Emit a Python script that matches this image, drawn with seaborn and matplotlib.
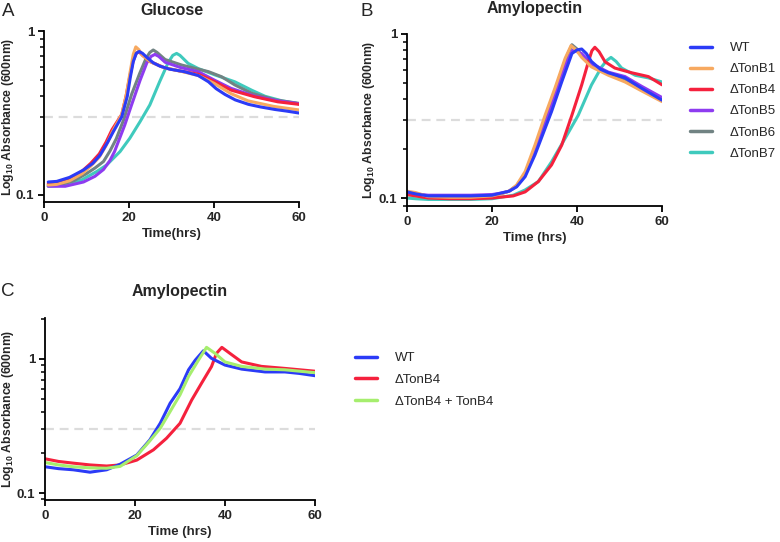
import numpy as np
import pandas as pd
import matplotlib
matplotlib.use("Agg")
import matplotlib.pyplot as plt
import seaborn as sns
from matplotlib.ticker import LogLocator, FixedLocator, NullFormatter

# ---------------- data ----------------
# Panel A: Glucose
a_wt_t = [1, 3, 6, 9.3, 11.5, 13.2, 15, 16.3, 18.3, 19.6, 20.3, 21, 21.7, 22.4, 23.2, 24.2, 25.7, 27.3, 29.6, 33, 36.3, 38.7, 40.5, 42.6, 45, 48.1, 51, 54.4, 57, 60]
a_wt_v = [0.12, 0.121, 0.128, 0.142, 0.156, 0.175, 0.21, 0.243, 0.30, 0.40, 0.52, 0.65, 0.73, 0.75, 0.73, 0.69, 0.64, 0.61, 0.585, 0.565, 0.535, 0.49, 0.445, 0.41, 0.38, 0.357, 0.344, 0.332, 0.325, 0.316]
a_b1_t = [1, 3, 6, 9, 11, 13, 14.6, 16, 18.3, 19.3, 20.2, 21, 21.6, 22.3, 23.2, 25, 28, 32, 36.3, 40, 44, 48, 54, 60]
a_b1_v = [0.115, 0.116, 0.122, 0.135, 0.15, 0.17, 0.2, 0.24, 0.31, 0.40, 0.55, 0.72, 0.80, 0.77, 0.71, 0.65, 0.60, 0.57, 0.535, 0.48, 0.415, 0.375, 0.347, 0.33]
a_b4_t = [1, 3, 6, 9, 11, 13, 14.6, 16, 18.3, 19.3, 20.2, 21, 21.7, 22.3, 23.2, 25, 28.5, 32, 36.3, 40.2, 44, 49.6, 55, 60]
a_b4_v = [0.117, 0.118, 0.125, 0.14, 0.156, 0.178, 0.21, 0.25, 0.31, 0.40, 0.53, 0.66, 0.73, 0.75, 0.71, 0.65, 0.595, 0.57, 0.545, 0.49, 0.436, 0.397, 0.37, 0.357]
a_b5_t = [1, 5, 9.3, 12, 14, 15.5, 16.6, 19, 20.6, 22.6, 24.2, 25.2, 26.1, 27, 28.5, 32, 36.3, 40.2, 44, 49.6, 55, 60]
a_b5_v = [0.113, 0.113, 0.12, 0.13, 0.143, 0.162, 0.184, 0.267, 0.354, 0.50, 0.64, 0.70, 0.72, 0.70, 0.645, 0.60, 0.565, 0.50, 0.447, 0.40, 0.375, 0.36]
a_b6_t = [1, 4, 7, 10, 12, 14, 15.5, 17, 18.8, 20.6, 22.5, 24, 24.9, 25.7, 26.6, 28.5, 32.4, 38.7, 41.8, 44.9, 48.9, 54.4, 60]
a_b6_v = [0.115, 0.116, 0.122, 0.135, 0.146, 0.16, 0.185, 0.22, 0.29, 0.41, 0.55, 0.68, 0.74, 0.766, 0.74, 0.67, 0.62, 0.565, 0.526, 0.469, 0.417, 0.38, 0.362]
a_b7_t = [1, 5, 9, 12.4, 14.7, 17.9, 20.2, 22.6, 24.9, 27.2, 29.2, 30.3, 31.2, 32, 33.9, 36.3, 40.2, 44.9, 48.9, 52, 56, 60]
a_b7_v = [0.113, 0.115, 0.124, 0.139, 0.152, 0.184, 0.222, 0.28, 0.354, 0.49, 0.64, 0.71, 0.73, 0.71, 0.635, 0.59, 0.54, 0.49, 0.435, 0.40, 0.375, 0.36]

# Panel B: Amylopectin
b_wt_t = [0, 2, 5, 10, 15, 20, 22, 24, 25.8, 27.8, 30.1, 32.5, 34, 36.4, 38.8, 40, 41.1, 42.2, 43.4, 45.5, 47.4, 51.3, 55.2, 60]
b_wt_v = [0.109, 0.106, 0.103, 0.103, 0.103, 0.104, 0.107, 0.11, 0.117, 0.135, 0.183, 0.266, 0.336, 0.51, 0.76, 0.80, 0.81, 0.76, 0.68, 0.61, 0.58, 0.54, 0.467, 0.395]
b_b1_t = [0, 2, 5, 10, 15, 20, 22, 24, 25.8, 27.8, 30.1, 32.5, 34.8, 37.2, 38.6, 39.8, 41.1, 43.4, 47.4, 51.3, 55.2, 60]
b_b1_v = [0.11, 0.108, 0.102, 0.101, 0.101, 0.103, 0.106, 0.11, 0.12, 0.145, 0.21, 0.32, 0.467, 0.71, 0.85, 0.80, 0.72, 0.63, 0.56, 0.51, 0.45, 0.387]
b_b4_t = [0, 2, 5, 10, 15, 20, 25, 27.8, 30.9, 34, 36.4, 38.8, 41.1, 42.7, 43.5, 44.2, 45.2, 46.6, 48.9, 52.9, 56.8, 60]
b_b4_v = [0.105, 0.103, 0.1, 0.099, 0.099, 0.1, 0.103, 0.109, 0.126, 0.159, 0.21, 0.32, 0.489, 0.68, 0.79, 0.83, 0.78, 0.677, 0.62, 0.58, 0.55, 0.49]
b_b5_t = [0, 2, 5, 10, 15, 20, 22, 24, 25.8, 27.8, 30.1, 32.5, 34.8, 37.2, 39, 41.1, 43.4, 47.4, 51.3, 55.2, 60]
b_b5_v = [0.108, 0.106, 0.104, 0.104, 0.104, 0.105, 0.107, 0.11, 0.118, 0.138, 0.19, 0.28, 0.42, 0.64, 0.80, 0.76, 0.66, 0.585, 0.55, 0.48, 0.41]
b_b6_t = [0, 2, 5, 10, 15, 20, 22, 24, 25.8, 27.8, 30.1, 32.5, 34.8, 37.2, 38.8, 40, 41.1, 43.4, 47.4, 51.3, 55.2, 60]
b_b6_v = [0.105, 0.104, 0.102, 0.102, 0.102, 0.103, 0.106, 0.11, 0.119, 0.14, 0.2, 0.305, 0.45, 0.69, 0.86, 0.81, 0.74, 0.64, 0.57, 0.53, 0.46, 0.40]
b_b7_t = [0, 2, 5, 10, 15, 20, 25, 27.8, 30.9, 34, 37.2, 40.3, 43.4, 45.8, 47, 48, 49.2, 50.5, 53.7, 56.8, 60]
b_b7_v = [0.1, 0.099, 0.098, 0.098, 0.098, 0.099, 0.104, 0.112, 0.126, 0.166, 0.231, 0.32, 0.489, 0.63, 0.69, 0.72, 0.68, 0.62, 0.56, 0.54, 0.51]

# Panel C: Amylopectin (complementation)
c_wt_t = [0, 3, 6.3, 10, 13.7, 16.7, 20.4, 23.3, 25.6, 27.8, 30, 31.9, 33.4, 35.2, 37, 40, 43.7, 48.9, 53.3, 56.5, 60]
c_wt_v = [0.157, 0.152, 0.149, 0.143, 0.149, 0.164, 0.192, 0.249, 0.331, 0.467, 0.60, 0.83, 0.98, 1.15, 1.01, 0.90, 0.84, 0.80, 0.80, 0.78, 0.75]
c_b4_t = [0, 3, 6.3, 10, 13.7, 16.7, 20.4, 24.1, 27, 30, 32.6, 34.8, 37, 38.1, 39.3, 41.1, 43.7, 48.1, 53.3, 60]
c_b4_v = [0.18, 0.172, 0.167, 0.162, 0.159, 0.162, 0.176, 0.21, 0.256, 0.331, 0.494, 0.66, 0.877, 1.1, 1.22, 1.1, 0.95, 0.88, 0.85, 0.81]
c_comp_t = [0, 3, 6.3, 10, 13.7, 16.7, 20.4, 23.3, 25.6, 27.8, 30, 31.9, 34.1, 35.9, 37.8, 40, 43.7, 48.9, 53.3, 60]
c_comp_v = [0.169, 0.162, 0.157, 0.154, 0.153, 0.158, 0.19, 0.245, 0.304, 0.405, 0.54, 0.74, 0.98, 1.22, 1.1, 0.95, 0.88, 0.84, 0.83, 0.79]

labels_ab = ["WT", "ΔTonB1", "ΔTonB4", "ΔTonB5", "ΔTonB6", "ΔTonB7"]
labels_c = ["WT", "ΔTonB4", "ΔTonB4 + TonB4"]
colors = {"WT": "#2B3BF7", "ΔTonB1": "#F7A960", "ΔTonB4": "#F5213D",
          "ΔTonB5": "#8E3CF0", "ΔTonB6": "#718383", "ΔTonB7": "#3FCABD",
          "ΔTonB4 + TonB4": "#A6EE6E"}
threshold = 0.3
x_ticks = [0, 20, 40, 60]

def frame(series):
    rows = []
    for name, t, v in series:
        for ti, vi in zip(t, v):
            rows.append((name, ti, vi))
    return pd.DataFrame(rows, columns=["strain", "time", "od"])

df_a = frame([("WT", a_wt_t, a_wt_v), ("ΔTonB1", a_b1_t, a_b1_v), ("ΔTonB4", a_b4_t, a_b4_v),
              ("ΔTonB5", a_b5_t, a_b5_v), ("ΔTonB6", a_b6_t, a_b6_v), ("ΔTonB7", a_b7_t, a_b7_v)])
df_b = frame([("WT", b_wt_t, b_wt_v), ("ΔTonB1", b_b1_t, b_b1_v), ("ΔTonB4", b_b4_t, b_b4_v),
              ("ΔTonB5", b_b5_t, b_b5_v), ("ΔTonB6", b_b6_t, b_b6_v), ("ΔTonB7", b_b7_t, b_b7_v)])
df_c = frame([("WT", c_wt_t, c_wt_v), ("ΔTonB4", c_b4_t, c_b4_v), ("ΔTonB4 + TonB4", c_comp_t, c_comp_v)])

# ---------------- style ----------------
sns.set_theme(style="ticks")
plt.rcParams["font.family"] = ["Liberation Sans", "DejaVu Sans"]
plt.rcParams["mathtext.fontset"] = "custom"
plt.rcParams["mathtext.bf"] = "Liberation Sans:bold"
plt.rcParams["mathtext.rm"] = "Liberation Sans:bold"

fig = plt.figure(figsize=(7.8, 5.42), dpi=100)
W, H = 780, 542
def rect(l, t, r, b):
    return [l / W, 1 - b / H, (r - l) / W, (b - t) / H]

ax_a = fig.add_axes(rect(44, 31, 299, 202))
ax_b = fig.add_axes(rect(407, 34, 662, 206))
ax_c = fig.add_axes(rect(45, 318, 315, 500))

draw_ab = ["ΔTonB7", "ΔTonB6", "ΔTonB5", "ΔTonB4", "ΔTonB1", "WT"]
draw_c = ["ΔTonB4", "WT", "ΔTonB4 + TonB4"]

def style_axis(ax, df, order, ylim, xlabel, label_x):
    sns.lineplot(data=df, x="time", y="od", hue="strain", hue_order=order,
                 palette=colors, estimator=None, sort=False, linewidth=2.2, ax=ax,
                 legend=True)
    for ln in ax.get_lines():
        ln.set_solid_joinstyle("round")
        ln.set_solid_capstyle("round")
    ax.axhline(threshold, color="#DCDCDC", lw=1.6, ls=(0, (4, 2.6)), zorder=0)
    ax.set_yscale("log")
    ax.set_xlim(0, 60)
    ax.set_ylim(*ylim)
    ax.xaxis.set_major_locator(FixedLocator(x_ticks))
    ax.yaxis.set_major_locator(LogLocator(base=10, numticks=10))
    ax.yaxis.set_minor_locator(LogLocator(base=10, subs=np.arange(2, 10), numticks=10))
    ax.yaxis.set_minor_formatter(NullFormatter())
    ax.yaxis.set_major_formatter(matplotlib.ticker.FuncFormatter(lambda v, p: f"{v:g}"))
    for s in ["top", "right"]:
        ax.spines[s].set_visible(False)
    for s in ["left", "bottom"]:
        ax.spines[s].set_linewidth(1.3)
        ax.spines[s].set_color("black")
    ax.tick_params(axis="both", which="major", length=4.5, width=1.3, labelsize=9.5, pad=2.5, color="black")
    ax.tick_params(axis="y", which="minor", length=3, width=1.1, color="black")
    for lab in ax.get_xticklabels() + ax.get_yticklabels():
        lab.set_fontweight("bold")
    ax.set_xlabel(xlabel, fontsize=9.5, fontweight="bold", labelpad=3)
    ax.set_ylabel(r"Log$_{\mathbf{10}}$ Absorbance (600nm)", fontsize=8.8, fontweight="bold")
    ax.yaxis.set_label_coords(label_x, 0.5)
    h, l = ax.get_legend_handles_labels()
    ax.get_legend().remove()
    return dict(zip(l, h))

hd_a = style_axis(ax_a, df_a, draw_ab, (0.0906, 1.0), "Time(hrs)", (16 - 44) / 255)
hd_b = style_axis(ax_b, df_b, draw_ab, (0.0894, 1.0), "Time (hrs)", (377 - 407) / 255)
hd_c = style_axis(ax_c, df_c, draw_c, (0.0887, 2.02), "Time (hrs)", (16 - 45) / 270)

# titles and panel letters
fig.text((44 + 299) / 2 / W, 1 - 15 / H, "Glucose", ha="center", va="baseline", fontsize=11.5, fontweight="bold")
fig.text((407 + 662) / 2 / W, 1 - 13 / H, "Amylopectin", ha="center", va="baseline", fontsize=11.5, fontweight="bold")
fig.text((45 + 315) / 2 / W, 1 - 296 / H, "Amylopectin", ha="center", va="baseline", fontsize=11.5, fontweight="bold")
fig.text(1.5 / W, 1 - 16.5 / H, "A", ha="left", va="baseline", fontsize=13.5)
fig.text(361 / W, 1 - 16 / H, "B", ha="left", va="baseline", fontsize=13.5)
fig.text(1.5 / W, 1 - 296.5 / H, "C", ha="left", va="baseline", fontsize=13.5)

# legends
leg1 = fig.legend([hd_b[k] for k in labels_ab], labels_ab, loc="upper left",
                  bbox_to_anchor=(690 / W, 1 - 42 / H), frameon=False, fontsize=9.5,
                  handlelength=1.7, handletextpad=1.3, labelspacing=0.67,
                  borderpad=0, borderaxespad=0)
leg2 = fig.legend([hd_c[k] for k in labels_c], labels_c, loc="upper left",
                  bbox_to_anchor=(355 / W, 1 - 352 / H), frameon=False, fontsize=9.5,
                  handlelength=1.7, handletextpad=1.3, labelspacing=0.72,
                  borderpad=0, borderaxespad=0)
for lg in (leg1, leg2):
    for ln in lg.get_lines():
        ln.set_linewidth(2.5)

fig.savefig("out.png", dpi=100)
